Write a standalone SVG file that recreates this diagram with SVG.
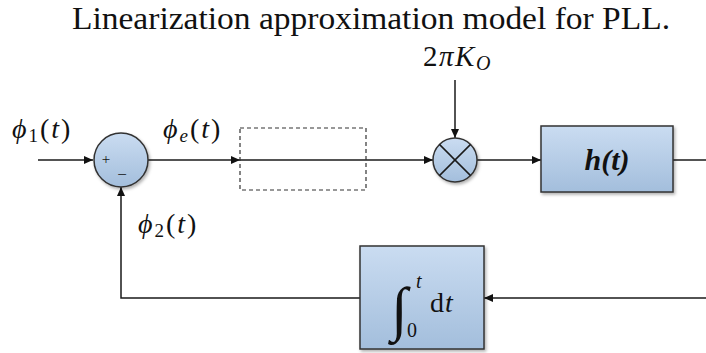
<svg xmlns="http://www.w3.org/2000/svg" width="706" height="353" viewBox="0 0 706 353">
<defs>
<linearGradient id="blue" x1="0" y1="0" x2="0" y2="1">
<stop offset="0" stop-color="#cadcf1"/>
<stop offset="1" stop-color="#a3bedc"/>
</linearGradient>
<marker id="arr" markerWidth="10" markerHeight="8" refX="9" refY="4" orient="auto" markerUnits="userSpaceOnUse">
<path d="M0,0 L9,4 L0,8 Z" fill="#111"/>
</marker>
<filter id="sh" x="-10%" y="-10%" width="130%" height="130%">
<feDropShadow dx="1.5" dy="2" stdDeviation="1.5" flood-color="#000" flood-opacity="0.3"/>
</filter>
</defs>
<style>
.ln{stroke:#1a1a1a;stroke-width:1.5;fill:none}
.blk{fill:url(#blue);stroke:#333;stroke-width:1.5}
text{font-family:"Liberation Serif","Times New Roman",Times,serif;fill:#111}
.math{font-style:italic}
.rm{font-style:normal}
.lbl{font-size:28px;letter-spacing:2px}
</style>
<rect width="706" height="353" fill="#fff"/>
<text x="371" y="29" font-size="32" text-anchor="middle" textLength="598" lengthAdjust="spacingAndGlyphs">Linearization approximation model for PLL.</text>

<g id="connectors">
<line class="ln" x1="38" y1="160" x2="93" y2="160" marker-end="url(#arr)"/>
<line class="ln" x1="148" y1="160" x2="240" y2="160" marker-end="url(#arr)"/>
<line class="ln" x1="240" y1="160" x2="433" y2="160" marker-end="url(#arr)"/>
<line class="ln" x1="455" y1="80" x2="455" y2="138" marker-end="url(#arr)"/>
<line class="ln" x1="477" y1="160" x2="541" y2="160" marker-end="url(#arr)"/>
<line class="ln" x1="673" y1="160" x2="706" y2="160"/>
<line class="ln" x1="706" y1="298" x2="484" y2="298" marker-end="url(#arr)"/>
<polyline class="ln" points="360,298 121,298 121,187" marker-end="url(#arr)"/>
</g>

<g id="sum">
<circle class="blk" cx="121" cy="160" r="27" filter="url(#sh)"/>
<text x="106" y="164" font-size="15" text-anchor="middle">+</text>
<text x="122" y="180" font-size="17" text-anchor="middle">−</text>
</g>

<g id="placeholder">
<rect x="240" y="128" width="126" height="62" fill="none" stroke="#333" stroke-width="1.2" stroke-dasharray="4,3"/>
</g>

<g id="multiplier">
<circle class="blk" cx="455" cy="160" r="22" filter="url(#sh)"/>
<line class="ln" x1="439.4" y1="144.4" x2="470.6" y2="175.6"/>
<line class="ln" x1="470.6" y1="144.4" x2="439.4" y2="175.6"/>
</g>

<g id="filter">
<rect class="blk" x="541" y="126" width="132" height="66" filter="url(#sh)"/>
<text x="607" y="170" font-size="30" font-weight="bold" font-style="italic" text-anchor="middle">h(t)</text>
</g>

<g id="integrator">
<rect class="blk" x="360" y="246" width="124" height="103" filter="url(#sh)"/>
<text x="391" y="329" class="math" font-size="60">∫</text>
<text x="416" y="288" class="math" font-size="20">t</text>
<text x="407" y="337" class="rm" font-size="20">0</text>
<text x="430" y="312" font-size="28" letter-spacing="1"><tspan class="rm">d</tspan><tspan class="math">t</tspan></text>
</g>

<g id="labels">
<text x="12" y="138" class="lbl"><tspan class="math">ϕ</tspan><tspan class="rm" font-size="19" dy="4">1</tspan><tspan class="rm" dy="-4">(</tspan><tspan class="math">t</tspan><tspan class="rm">)</tspan></text>
<text x="163" y="138" class="lbl"><tspan class="math">ϕ</tspan><tspan class="math" font-size="19" dy="4">e</tspan><tspan class="rm" dy="-4">(</tspan><tspan class="math">t</tspan><tspan class="rm">)</tspan></text>
<text x="138" y="233" class="lbl"><tspan class="math">ϕ</tspan><tspan class="rm" font-size="19" dy="4">2</tspan><tspan class="rm" dy="-4">(</tspan><tspan class="math">t</tspan><tspan class="rm">)</tspan></text>
<text x="423" y="66" font-size="29" letter-spacing="1.5"><tspan class="rm">2</tspan><tspan class="math">πK</tspan><tspan class="math" font-size="20" dy="4">O</tspan></text>
</g>
</svg>
